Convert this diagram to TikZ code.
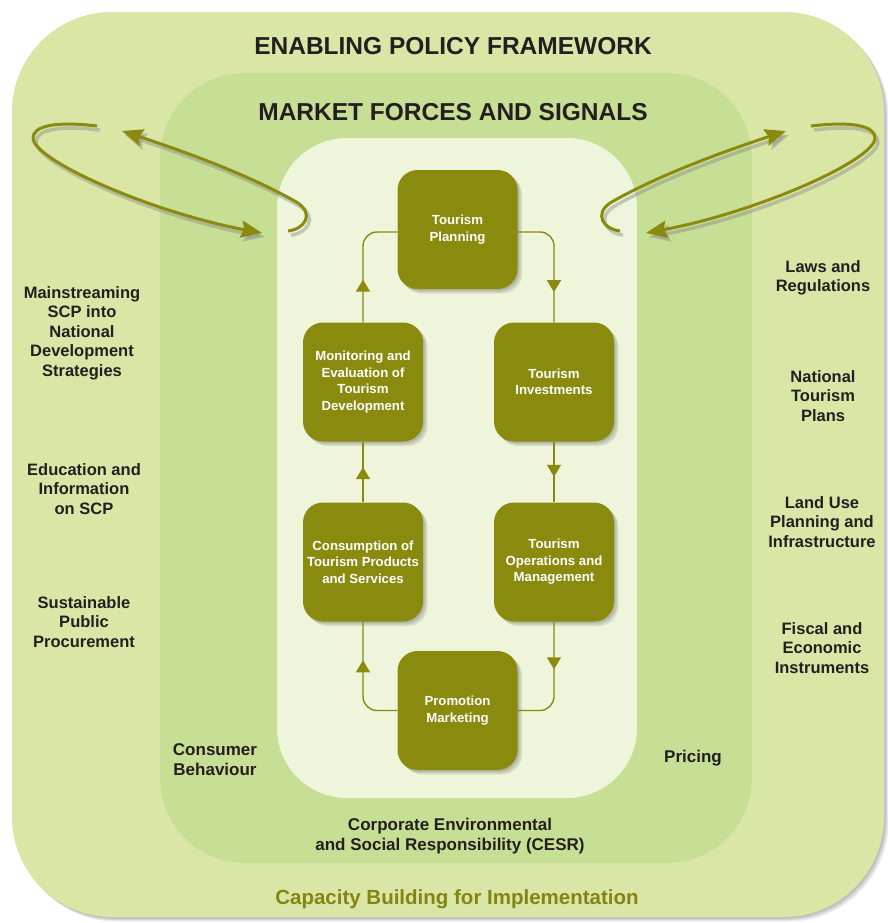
\documentclass[tikz,border=0pt]{standalone}
\usepackage{fontspec}
\setmainfont{Liberation Sans}
\usetikzlibrary{arrows.meta,decorations.markings}
\definecolor{outerc}{RGB}{217,230,166}
\definecolor{midc}{RGB}{199,223,148}
\definecolor{innerc}{RGB}{238,245,218}
\definecolor{oliveg}{RGB}{138,139,14}
\definecolor{capc}{RGB}{132,132,20}
\definecolor{txtc}{RGB}{35,31,32}
\tikzset{
  softshadow/.style={
    preaction={fill=black,opacity=.09,transform canvas={xshift=1.5pt,yshift=-1.5pt}},
    preaction={fill=black,opacity=.09,transform canvas={xshift=3pt,yshift=-3pt}},
    preaction={fill=black,opacity=.09,transform canvas={xshift=4.5pt,yshift=-4.5pt}}},
  stagebox/.style={minimum width=120, minimum height=119, rounded corners=20,
    fill=oliveg, text=white, align=center, inner sep=0,
    font=\bfseries\fontsize{13.2}{16.5}\selectfont, softshadow},
  flow/.style={draw=oliveg, line width=1.4pt, rounded corners=14},
  midarrow/.style={postaction={decorate},
    decoration={markings, mark=at position #1 with {\arrow{Triangle[length=12pt,width=14pt]}}}},
  bigarrow/.style={draw=oliveg, line width=3pt, -{Stealth[length=21pt,width=17pt,inset=3pt]}},
  bigshadow/.style={draw=black!45, opacity=.45, line width=3.5pt,
    -{Stealth[length=21pt,width=17pt,inset=3pt]}, transform canvas={xshift=3pt,yshift=-4pt}},
  bigline/.style={draw=oliveg, line width=3pt},
  biglineshadow/.style={draw=black!45, opacity=.45, line width=3.5pt, transform canvas={xshift=3pt,yshift=-4pt}},
  headtxt/.style={text=txtc, font=\bfseries\fontsize{24.5}{29}\selectfont, inner sep=0},
  sidetxt/.style={text=txtc, align=center, inner sep=0, font=\bfseries\fontsize{16.5}{19.5}\selectfont},
  sidetxtb/.style={text=txtc, align=center, inner sep=0, font=\bfseries\fontsize{17}{20}\selectfont},
}
\begin{document}
\begin{tikzpicture}[x=1pt,y=1pt]
\useasboundingbox (0,0) rectangle (888,-923);
\fill[white] (0,0) rectangle (888,-923);
% outer frame
\fill[outerc, rounded corners=100, softshadow] (12,-12) rectangle (884,-917);
% market forces
\fill[midc, rounded corners=85] (160,-73) rectangle (752,-863);
% inner
\fill[innerc, rounded corners=70] (277,-138) rectangle (637,-798);

% curved double arrows - coordinates
\coordinate (lt1) at (97,-126);
\coordinate (lh1) at (262,-233);
\coordinate (lt2) at (288,-231);
\coordinate (lh2) at (122,-131);
\coordinate (rt1) at (811,-126);
\coordinate (rh1) at (646,-233);
\coordinate (rt2) at (620,-231);
\coordinate (rh2) at (786,-131);

% shadows
\path[biglineshadow] (lt1) .. controls (55,-121) and (33,-126) .. (33,-138);
\path[bigshadow] (33,-138) .. controls (33,-160) and (150,-212) .. (lh1);
\path[biglineshadow] (lt2) .. controls (305,-229) and (314,-214) .. (298,-203);
\path[bigshadow] (298,-203) .. controls (250,-175) and (180,-150) .. (lh2);
\path[biglineshadow] (rt1) .. controls (853,-121) and (875,-126) .. (875,-138);
\path[bigshadow] (875,-138) .. controls (875,-160) and (758,-212) .. (rh1);
\path[biglineshadow] (rt2) .. controls (603,-229) and (594,-214) .. (610,-203);
\path[bigshadow] (610,-203) .. controls (658,-175) and (728,-150) .. (rh2);
% arrows
\path[bigline] (lt1) .. controls (55,-121) and (33,-126) .. (33,-138);
\path[bigarrow] (33,-138) .. controls (33,-160) and (150,-212) .. (lh1);
\path[bigline] (lt2) .. controls (305,-229) and (314,-214) .. (298,-203);
\path[bigarrow] (298,-203) .. controls (250,-175) and (180,-150) .. (lh2);
\path[bigline] (rt1) .. controls (853,-121) and (875,-126) .. (875,-138);
\path[bigarrow] (875,-138) .. controls (875,-160) and (758,-212) .. (rh1);
\path[bigline] (rt2) .. controls (603,-229) and (594,-214) .. (610,-203);
\path[bigarrow] (610,-203) .. controls (658,-175) and (728,-150) .. (rh2);

% stage boxes
\node[stagebox] (plan) at (457.5,-229.5) {Tourism\\Planning};
\node[stagebox] (mon) at (363,-382) {Monitoring and\\Evaluation of\\Tourism\\Development};
\node[stagebox] (inv) at (554,-382) {Tourism\\Investments};
\node[stagebox] (cons) at (363,-562) {Consumption of\\Tourism Products\\and Services};
\node[stagebox] (ops) at (554,-562) {Tourism\\Operations and\\Management};
\node[stagebox] (prom) at (457.5,-710.5) {Promotion\\Marketing};

% flow connectors
\path[flow, midarrow=0.75] ([yshift=-2.5]plan.east) -| (inv.north);
\path[flow, midarrow=0.58] (inv.south) -- (ops.north);
\path[flow, midarrow=0.40] (ops.south) |- (prom.east);
\path[flow, midarrow=0.67] (prom.west) -| (cons.south);
\path[flow, midarrow=0.58] (cons.north) -- (mon.south);
\path[flow, midarrow=0.36] (mon.north) |- ([yshift=-2.5]plan.west);

% headings
\node[headtxt] (epf) at (453,-46.5) {ENABLING POLICY FRAMEWORK};
\node[headtxt] (mfs) at (453,-112.5) {MARKET FORCES AND SIGNALS};

% left labels
\node[sidetxt] (scp) at (82,-333) {Mainstreaming\\SCP into\\National\\Development\\Strategies};
\node[sidetxt] (edu) at (84,-489) {Education and\\Information\\on SCP};
\node[sidetxt] (spp) at (84,-622) {Sustainable\\Public\\Procurement};
% right labels
\node[sidetxt] (laws) at (823,-278) {Laws and\\Regulations};
\node[sidetxt] (ntp) at (823,-396) {National\\Tourism\\Plans};
\node[sidetxt] (land) at (822,-522) {Land Use\\Planning and\\Infrastructure};
\node[sidetxt] (fisc) at (822,-648) {Fiscal and\\Economic\\Instruments};
% market labels
\node[sidetxtb] (cb) at (215,-760) {Consumer\\Behaviour};
\node[sidetxtb] (pr) at (693,-758) {Pricing};
\node[sidetxtb] (cesr) at (450,-836) {Corporate Environmental\\and Social Responsibility (CESR)};
\node[text=capc, inner sep=0, font=\bfseries\fontsize{20.5}{24}\selectfont] (cap) at (457,-899) {Capacity Building for Implementation};
\end{tikzpicture}
\end{document}
